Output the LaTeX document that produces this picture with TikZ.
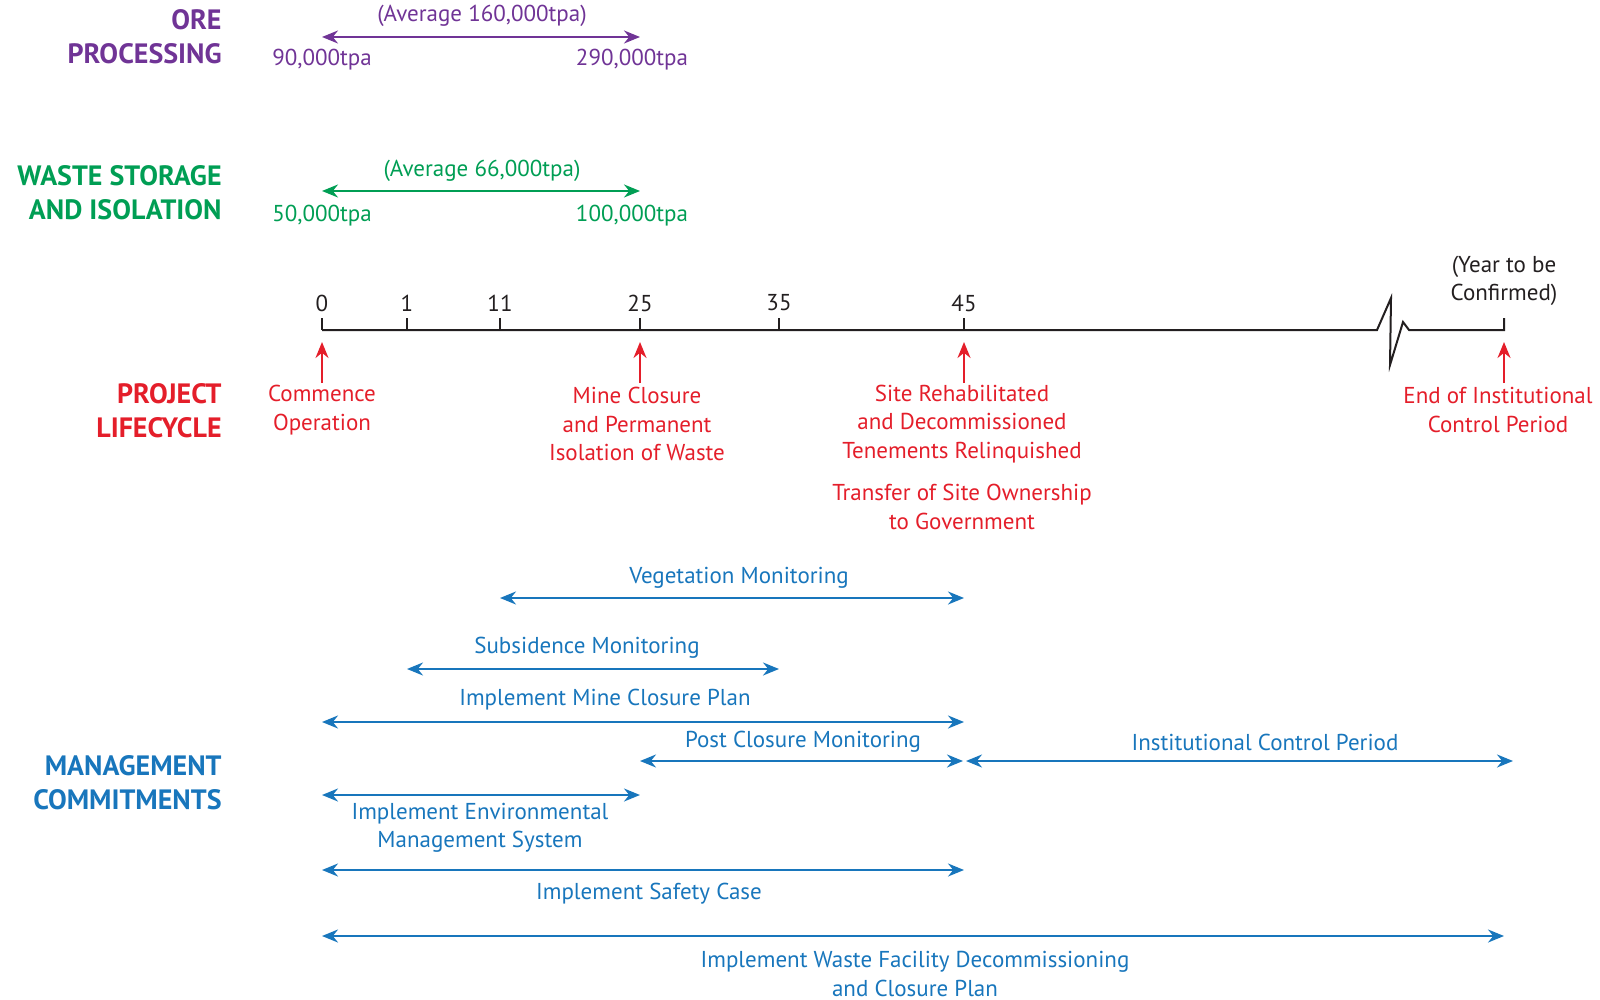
\documentclass[tikz,border=0pt]{standalone}
\usepackage{fontspec}
\setmainfont{PT Sans}
\usetikzlibrary{arrows.meta}
\definecolor{orepurple}{RGB}{112,52,150}
\definecolor{wastegreen}{RGB}{0,158,84}
\definecolor{lifered}{RGB}{228,30,42}
\definecolor{mgmtblue}{RGB}{24,118,188}
\definecolor{axisgray}{RGB}{35,31,32}

\tikzset{
  lbl/.style={font=\fontsize{11.5}{14.25}\selectfont, align=center, inner sep=0pt},
  head/.style={font=\fontsize{14}{17}\selectfont\bfseries, align=right, anchor=east, inner sep=0pt},
  span/.style={line width=1.1pt, {Stealth[length=8pt,width=6.5pt]}-{Stealth[length=8pt,width=6.5pt]}},
  evt/.style={line width=1.1pt, lifered, -{Stealth[length=8pt,width=6.5pt]}}
}

\begin{document}
\begin{tikzpicture}[x=0.5pt,y=-0.5pt]
  \useasboundingbox (0,0) rectangle (1600,1000);

  % headings
  \node[head, orepurple] (ore) at (222,37) {ORE\\PROCESSING};
  \node[head, wastegreen] (waste) at (222,193) {WASTE STORAGE\\AND ISOLATION};
  \node[head, lifered] (life) at (222,411) {PROJECT\\LIFECYCLE};
  \node[head, mgmtblue] (mgmt) at (222,783) {MANAGEMENT\\COMMITMENTS};

  % ore processing
  \coordinate (ore-a) at (322,37);
  \coordinate (ore-b) at (640,37);
  \draw[span, orepurple] (ore-a) -- (ore-b);
  \node[lbl, orepurple] (ore-avg) at (482,16) {(Average 160,000tpa)};
  \node[lbl, orepurple] (ore-min) at (322,60) {90,000tpa};
  \node[lbl, orepurple] (ore-max) at (632,60) {290,000tpa};

  % waste storage
  \coordinate (waste-a) at (322,191);
  \coordinate (waste-b) at (640,191);
  \draw[span, wastegreen] (waste-a) -- (waste-b);
  \node[lbl, wastegreen] (waste-avg) at (482,171) {(Average 66,000tpa)};
  \node[lbl, wastegreen] (waste-min) at (322,216) {50,000tpa};
  \node[lbl, wastegreen] (waste-max) at (632,216) {100,000tpa};

  % timeline
  \coordinate (t0) at (322,330);
  \coordinate (tend) at (1504,330);
  \draw[axisgray, line width=1pt] (t0) -- (1377,330) -- (1391,298) -- (1390,365)
    -- (1403,322) -- (1409,330) -- (tend) -- (1504,318);
  \foreach \n/\x in {0/322,1/407,11/500,25/640,35/779,45/964} {
    \draw[axisgray, line width=1pt] (\x,330) -- (\x,318);
    \node[lbl, axisgray] (yr\n) at (\x,303) {\n};
  }
  \node[lbl, axisgray] (yrend) at (1504,281) {(Year to be\\Confirmed)};

  % lifecycle events
  \coordinate (ev0) at (322,342);
  \coordinate (ev25) at (640,342);
  \coordinate (ev45) at (964,342);
  \coordinate (evend) at (1504,342);
  \node[lbl, lifered] (commence) at (322,410) {Commence\\Operation};
  \node[lbl, lifered] (closure) at (637,424) {Mine Closure\\and Permanent\\Isolation of Waste};
  \node[lbl, lifered] (rehab) at (962,424) {Site Rehabilitated\\and Decommissioned\\Tenements Relinquished};
  \node[lbl, lifered] (transfer) at (962,507) {Transfer of Site Ownership\\to Government};
  \node[lbl, lifered] (endctrl) at (1498,410) {End of Institutional\\Control Period};
  \draw[evt] (322,383) -- (ev0);
  \draw[evt] (640,383) -- (ev25);
  \draw[evt] (964,383) -- (ev45);
  \draw[evt] (1504,383) -- (evend);

  % management commitments
  \begin{scope}[mgmtblue]
    \coordinate (veg-a) at (500,598);
    \coordinate (veg-b) at (964,598);
    \draw[span] (veg-a) -- (veg-b);
    \node[lbl] (veg) at (739,578) {Vegetation Monitoring};

    \coordinate (sub-a) at (407,669);
    \coordinate (sub-b) at (779,669);
    \draw[span] (sub-a) -- (sub-b);
    \node[lbl] (sub) at (587,648) {Subsidence Monitoring};

    \coordinate (mcp-a) at (322,722);
    \coordinate (mcp-b) at (964,722);
    \draw[span] (mcp-a) -- (mcp-b);
    \node[lbl] (mcp) at (605,700) {Implement Mine Closure Plan};

    \coordinate (pcm-a) at (640,761);
    \coordinate (pcm-b) at (963,761);
    \draw[span] (pcm-a) -- (pcm-b);
    \node[lbl] (pcm) at (803,742) {Post Closure Monitoring};

    \coordinate (icp-a) at (966,761);
    \coordinate (icp-b) at (1513,761);
    \draw[span] (icp-a) -- (icp-b);
    \node[lbl] (icp) at (1265,742) {Institutional Control Period};

    \coordinate (ems-a) at (322,795);
    \coordinate (ems-b) at (640,795);
    \draw[span] (ems-a) -- (ems-b);
    \node[lbl] (ems) at (480,828) {Implement Environmental\\Management System};

    \coordinate (safe-a) at (322,870);
    \coordinate (safe-b) at (964,870);
    \draw[span] (safe-a) -- (safe-b);
    \node[lbl] (safe) at (649,894) {Implement Safety Case};

    \coordinate (wfd-a) at (322,936);
    \coordinate (wfd-b) at (1504,936);
    \draw[span] (wfd-a) -- (wfd-b);
    \node[lbl] (wfd) at (915,974) {Implement Waste Facility Decommissioning\\and Closure Plan};
  \end{scope}
\end{tikzpicture}
\end{document}
